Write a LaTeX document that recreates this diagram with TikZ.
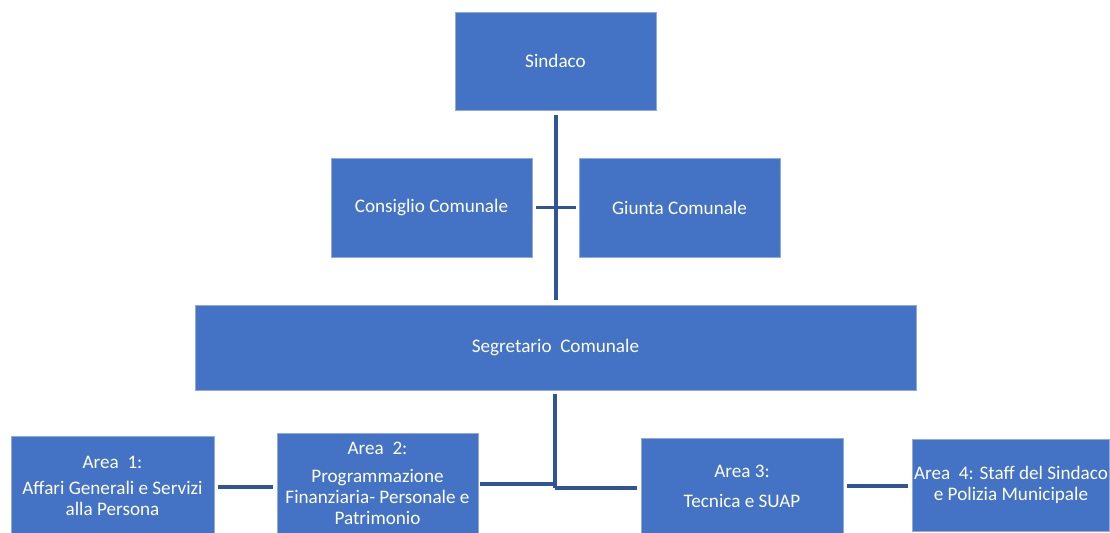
\documentclass[tikz,border=0pt]{standalone}
\usepackage{fontspec}
\setmainfont{Carlito}
\definecolor{boxfill}{HTML}{4472C4}
\definecolor{boxline}{HTML}{8FAADC}
\definecolor{conn}{HTML}{2F5597}
\begin{document}
\begin{tikzpicture}[x=0.02cm,y=-0.02cm,
  box/.style={fill=boxfill,draw=boxline,line width=0.4pt,text=white,align=center,
    font=\fontsize{10.9}{12}\selectfont,inner sep=0pt},
  conn/.style={draw=conn,line width=1.8pt}]
\useasboundingbox (0,0) rectangle (1110,532);
\node[box,minimum width=4.02cm,minimum height=1.96cm] (sind) at (555.5,61) {Sindaco};
\node[box,minimum width=4.02cm,minimum height=1.98cm] (cons) at (431.5,207.5) {Consiglio Comunale};
\node[box,minimum width=4.02cm,minimum height=1.98cm] (giun) at (679.5,207.5) {Giunta Comunale};
\node[box,minimum width=14.42cm,minimum height=1.70cm] (seg) at (555.5,347.5) {Segretario\ \ Comunale};
\node[box,minimum width=4.06cm,minimum height=2.0cm] (a1) at (112.5,486) {Area\ \ 1:\\[3pt]Affari Generali e Servizi\\alla Persona};
\node[box,minimum width=4.02cm,minimum height=2.0cm] (a2) at (377.5,483) {Area\ \ 2:\\[4pt]Programmazione\\Finanziaria- Personale e\\Patrimonio};
\node[box,minimum width=4.04cm,minimum height=1.9cm] (a3) at (742,486) {Area 3:\\[5pt]Tecnica e SUAP};
\node[box,minimum width=3.94cm,minimum height=1.84cm] (a4) at (1011,485) {Area\ \ 4: Staff del Sindaco\\e Polizia Municipale};
\coordinate (top) at (556,115);
\coordinate (bot) at (556,300);
\coordinate (jl) at (555,484);
\coordinate (jr) at (555,488);
\draw[conn] (top) -- (bot);
\draw[conn] ([xshift=0.08cm]cons.east) -- ([xshift=-0.06cm]giun.west);
\draw[conn] ([yshift=-0.08cm]seg.south -| jl) -- (jr);
\draw[conn] ([xshift=0.04cm]a2.east |- jl) -- (jl);
\draw[conn] (jr) -- ([xshift=-0.08cm]a3.west |- jr);
\draw[conn] ([xshift=0.08cm]a1.east |- 0,487) -- ([xshift=-0.08cm]a2.west |- 0,487);
\draw[conn] ([xshift=0.08cm]a3.east |- 0,486) -- ([xshift=-0.08cm]a4.west |- 0,486);
\end{tikzpicture}
\end{document}
